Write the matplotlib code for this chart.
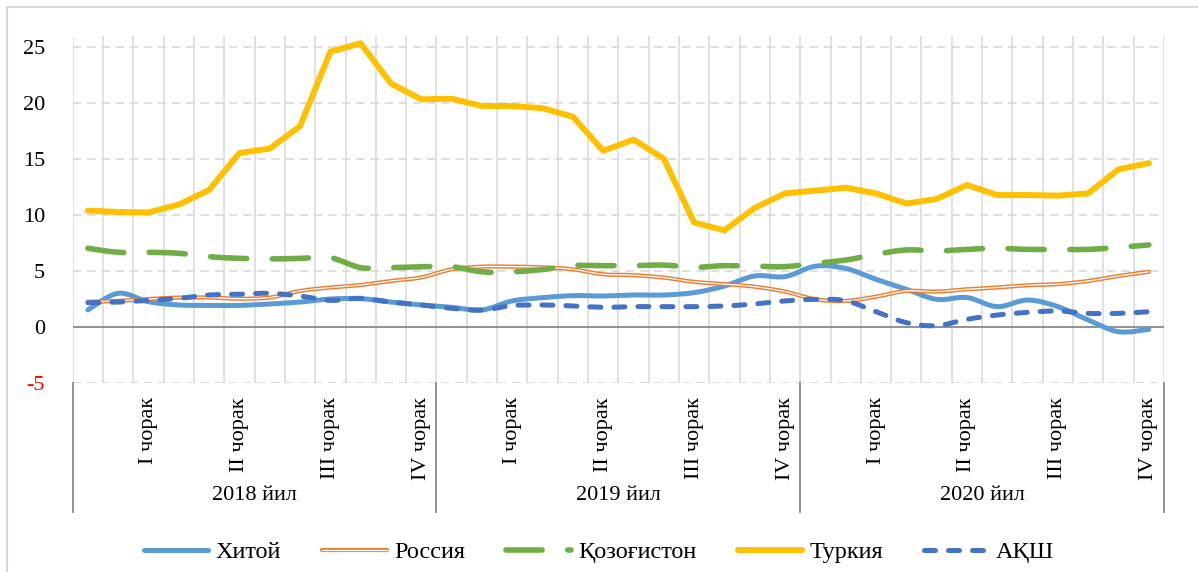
import numpy as np
import matplotlib
matplotlib.use('Agg')
import matplotlib.pyplot as plt
import matplotlib.transforms as mtransforms
from matplotlib.path import Path
from matplotlib.patches import PathPatch
from matplotlib.lines import Line2D
from matplotlib.legend_handler import HandlerBase

plt.rcParams['font.family'] = ['Liberation Serif', 'DejaVu Serif']
plt.rcParams['axes.unicode_minus'] = False

# monthly values, Jan 2018 .. Dec 2020
years = ['2018 йил', '2019 йил', '2020 йил']
quarters = ['I чорак', 'II чорак', 'III чорак', 'IV чорак']

china = [1.5, 2.98, 2.23, 1.94, 1.9, 1.9, 2.03, 2.2, 2.47, 2.5, 2.2, 1.94,
         1.73, 1.49, 2.3, 2.59, 2.77, 2.74, 2.83, 2.83, 3.04, 3.63, 4.53, 4.47,
         5.4, 5.2, 4.23, 3.34, 2.44, 2.6, 1.79, 2.38, 1.79, 0.6, -0.45, -0.24]
russia = [2.23, 2.3, 2.47, 2.6, 2.6, 2.5, 2.6, 3.19, 3.5, 3.72, 4.08, 4.4,
          5.12, 5.36, 5.36, 5.3, 5.12, 4.68, 4.6, 4.38, 4.0, 3.8, 3.57, 3.13,
          2.45, 2.3, 2.68, 3.19, 3.13, 3.34, 3.5, 3.7, 3.8, 4.08, 4.53, 4.9]
kazakh = [7.0, 6.64, 6.64, 6.55, 6.25, 6.1, 6.05, 6.1, 6.16, 5.27, 5.27, 5.35,
          5.36, 4.9, 4.9, 5.1, 5.45, 5.45, 5.45, 5.5, 5.3, 5.45, 5.4, 5.36,
          5.66, 5.95, 6.46, 6.85, 6.76, 6.9, 7.0, 6.9, 6.9, 6.9, 7.08, 7.3]
turkey = [10.36, 10.24, 10.2, 10.9, 12.2, 15.5, 15.9, 17.9, 24.55, 25.3, 21.7, 20.3,
          20.35, 19.7, 19.7, 19.5, 18.75, 15.7, 16.7, 15.0, 9.3, 8.6, 10.6, 11.9,
          12.15, 12.4, 11.9, 11.0, 11.4, 12.65, 11.75, 11.75, 11.7, 11.9, 14.05, 14.6]
usa = [2.14, 2.2, 2.35, 2.53, 2.83, 2.9, 2.98, 2.74, 2.35, 2.53, 2.2, 1.94,
       1.64, 1.49, 1.88, 1.94, 1.85, 1.73, 1.79, 1.79, 1.79, 1.85, 2.03, 2.3,
       2.44, 2.32, 1.34, 0.36, 0.09, 0.66, 1.04, 1.28, 1.4, 1.19, 1.19, 1.34]

n = len(china)
x = np.arange(n)


def smooth_path(xs, ys):
    # Excel-like smoothed line: cubic bezier segments through every data point
    p = np.column_stack([xs, ys]).astype(float)
    ext = np.vstack([p[0], p, p[-1]])
    verts = [p[0]]
    codes = [Path.MOVETO]
    for i in range(len(p) - 1):
        c1 = ext[i + 1] + (ext[i + 2] - ext[i]) / 6
        c2 = ext[i + 2] - (ext[i + 3] - ext[i + 1]) / 6
        verts += [c1, c2, p[i + 1]]
        codes += [Path.CURVE4] * 3
    return Path(verts, codes)


def smooth_line(ax, ys, z, **kw):
    patch = PathPatch(smooth_path(x, ys), fill=False, zorder=z, joinstyle='round', **kw)
    ax.add_patch(patch)
    return patch


fig = plt.figure(figsize=(11.98, 5.72), dpi=100)
ax = fig.add_axes([72.7 / 1198, 1 - 382.7 / 572, (1164 - 72.7) / 1198, (382.7 - 36) / 572])

# outer frame (top and left only, picture is cropped)
fig.add_artist(Line2D([7 / 1198, 1], [1 - 7 / 572, 1 - 7 / 572], transform=fig.transFigure,
                      color='#d9d9d9', lw=1.5))
fig.add_artist(Line2D([7 / 1198, 7 / 1198], [0, 1 - 7 / 572], transform=fig.transFigure,
                      color='#d9d9d9', lw=1.5))

ax.set_xlim(-0.5, n - 0.5)
ax.set_ylim(-5, 25.95)
for s in ax.spines.values():
    s.set_visible(False)

# grid
for k in range(n + 1):
    ax.axvline(k - 0.5, color='#d9d9d9', lw=1.1, zorder=1)
for v in [-5, 5, 10, 15, 20, 25]:
    ax.axhline(v, color='#d9d9d9', lw=1.2, dashes=(5, 3.5), zorder=1)
ax.axhline(0, color='#898989', lw=1.3, zorder=1.5)

ax.set_yticks([-5, 0, 5, 10, 15, 20, 25])
ax.tick_params(axis='y', length=0, pad=20, labelsize=16)
ax.set_xticks([])
ax.get_yticklabels()[0].set_color('red')

# series
smooth_line(ax, china, 3, edgecolor='#5b9bd5', lw=3.6, capstyle='round')
smooth_line(ax, russia, 3.1, edgecolor='#ed7d31', lw=3.0, capstyle='round')
smooth_line(ax, russia, 3.2, edgecolor='white', lw=0.9)
smooth_line(ax, kazakh, 3.3, edgecolor='#70ad47', lw=4.0, linestyle=(0, (6.5, 4.6)), capstyle='round')
ax.plot(x, turkey, color='#ffc000', lw=4.3, solid_capstyle='round', solid_joinstyle='round', zorder=3.4)
smooth_line(ax, usa, 3.5, edgecolor='#4472c4', lw=3.6, linestyle=(0, (2.2, 2.6)), capstyle='round')

# category axis labels
trans = mtransforms.blended_transform_factory(ax.transData, ax.transAxes)
sep_bottom = (382.7 - 512) / (382.7 - 36)
q_top = (382.7 - 397) / (382.7 - 36)
yr_y = (382.7 - 496) / (382.7 - 36)
for yi, yname in enumerate(years):
    for qi, qname in enumerate(quarters):
        ax.text(yi * 12 + qi * 3 + 2, q_top, qname, transform=trans, rotation=90,
                ha='center', va='top', fontsize=16)
    ax.text(yi * 12 + 5.5, yr_y, yname, transform=trans, ha='center', va='center', fontsize=16)
for b in range(len(years) + 1):
    ax.plot([b * 12 - 0.5, b * 12 - 0.5], [0, sep_bottom], transform=trans, color='#898989',
            lw=1.3, clip_on=False)


# legend
class DoubleLineHandler(HandlerBase):
    def create_artists(self, legend, orig, xd, yd, w, h, fs, trans):
        y = h / 2 - yd
        outer = Line2D([-xd, -xd + w], [y, y], color='#ed7d31', lw=3.0, solid_capstyle='round')
        inner = Line2D([-xd, -xd + w], [y, y], color='white', lw=0.9)
        outer.set_transform(trans)
        inner.set_transform(trans)
        return [outer, inner]


h_cn = Line2D([], [], color='#5b9bd5', lw=3.6, solid_capstyle='round')
h_ru = Line2D([], [], color='#ed7d31')
h_kz = Line2D([], [], color='#70ad47', lw=4.0, dashes=(6.5, 4.6), dash_capstyle='round')
h_tr = Line2D([], [], color='#ffc000', lw=4.3, solid_capstyle='round')
h_us = Line2D([], [], color='#4472c4', lw=3.6, dashes=(2.2, 2.6), dash_capstyle='round')
fig.legend([h_cn, h_ru, h_kz, h_tr, h_us], ['Хитой', 'Россия', 'Қозоғистон', 'Туркия', 'АҚШ'],
           handler_map={h_ru: DoubleLineHandler()}, loc='center', bbox_to_anchor=(0.5, 1 - 552 / 572),
           ncol=5, frameon=False, fontsize=17.5, handlelength=2.65, handletextpad=0.3,
           columnspacing=1.7)

fig.savefig('out.png', dpi=100)
